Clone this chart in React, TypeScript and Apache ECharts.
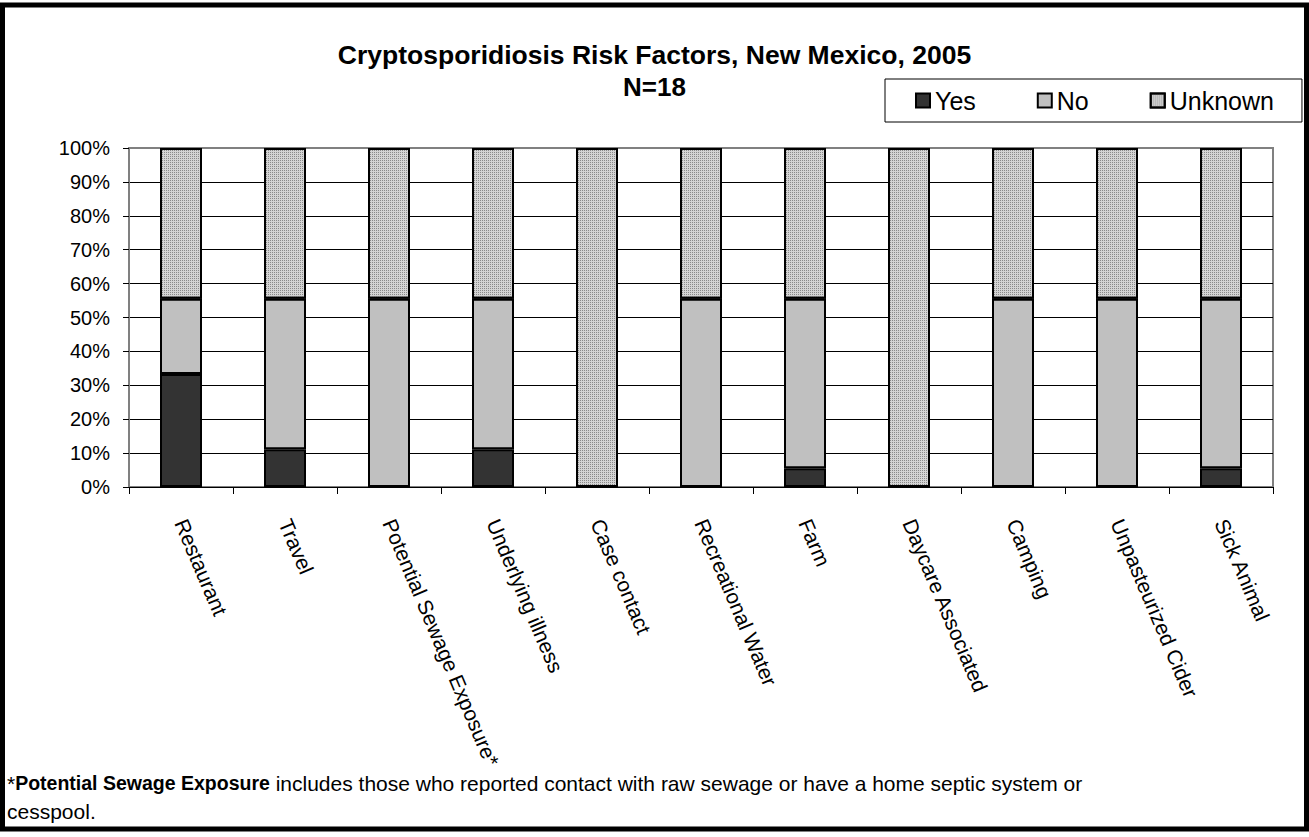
import React, { useEffect, useRef } from "react";
import * as echarts from "echarts";

const categories = [
  "Restaurant",
  "Travel",
  "Potential Sewage Exposure*",
  "Underlying illness",
  "Case contact",
  "Recreational Water",
  "Farm",
  "Daycare Associated",
  "Camping",
  "Unpasteurized Cider",
  "Sick Animal",
];
const totalCases = 18;
const yesCounts = [6, 2, 0, 2, 0, 0, 1, 0, 0, 0, 1];
const noCounts = [4, 8, 10, 8, 0, 10, 9, 0, 10, 10, 9];
const unknownCounts = [8, 8, 8, 8, 18, 8, 8, 18, 8, 8, 8];
const seriesNames = ["Yes", "No", "Unknown"];
const titleText = "Cryptosporidiosis Risk Factors, New Mexico, 2005";
const subtitleText = "N=18";

const FONT = "'Liberation Sans', Arial, sans-serif";

const pct = (arr: number[]) => arr.map((v) => (v / totalCases) * 100);

export default function App() {
  const ref = useRef<HTMLDivElement>(null);
  useEffect(() => {
    if (!ref.current) return;
    const chart = echarts.init(ref.current, null, { renderer: "svg" });
    const barBase = {
      type: "bar",
      stack: "total",
      barWidth: 42,
    };
    const splitColors = Array.from({ length: 11 }, (_, i) => (i === 10 ? "#808080" : "#000000"));
    chart.setOption({
      animation: false,
      backgroundColor: "#ffffff",
      textStyle: { fontFamily: FONT },
      title: {
        text: titleText,
        subtext: subtitleText,
        left: "center",
        top: 35,
        itemGap: 2,
        textStyle: { fontSize: 26.5, fontWeight: "bold", color: "#000", fontFamily: FONT, lineHeight: 30 },
        subtextStyle: { fontSize: 26, fontWeight: "bold", color: "#000", fontFamily: FONT, lineHeight: 30 },
      },
      legend: {
        data: seriesNames,
        left: 885,
        top: 79,
        padding: [9, 28, 9, 30],
        itemGap: 61,
        itemWidth: 14,
        itemHeight: 14,
        icon: "rect",
        borderColor: "#000",
        borderWidth: 1,
        backgroundColor: "#fff",
        textStyle: { fontSize: 25, color: "#000", fontFamily: FONT },
      },
      grid: {
        left: 129,
        right: 36,
        top: 148,
        bottom: 350,
        show: true,
        borderColor: "#808080",
        borderWidth: 2,
        containLabel: false,
      },
      xAxis: {
        type: "category",
        data: categories,
        axisLine: { show: true, lineStyle: { color: "#000", width: 1 } },
        axisTick: { show: true, length: 7, lineStyle: { color: "#000" } },
        axisLabel: {
          interval: 0,
          rotate: -67,
          margin: 33,
          fontSize: 21,
          color: "#000",
          fontFamily: FONT,
        },
      },
      yAxis: {
        type: "value",
        min: 0,
        max: 100,
        interval: 10,
        axisLine: { show: true, lineStyle: { color: "#808080", width: 2 } },
        axisTick: { show: true, length: 6, lineStyle: { color: "#000" } },
        axisLabel: {
          formatter: "{value}%",
          fontSize: 20,
          color: "#000",
          margin: 19,
          fontFamily: FONT,
        },
        splitLine: { show: true, lineStyle: { color: splitColors, width: 1 } },
      },
      series: [
        {
          ...barBase,
          name: "Yes",
          data: pct(yesCounts),
          itemStyle: { color: "#333333", borderColor: "#000", borderWidth: 2 },
        },
        {
          ...barBase,
          name: "No",
          data: pct(noCounts),
          itemStyle: { color: "#c0c0c0", borderColor: "#000", borderWidth: 2 },
        },
        {
          ...barBase,
          name: "Unknown",
          data: pct(unknownCounts),
          itemStyle: {
            color: "#d4d4d4",
            borderColor: "#000",
            borderWidth: 2,
            decal: {
              symbol: "rect",
              symbolSize: 1,
              dashArrayX: [1, 1],
              dashArrayY: [1, 1],
              color: "#8a8a8a",
              rotation: 0,
            },
          },
        },
      ],
      graphic: [
        {
          type: "rect",
          shape: { x: 2.5, y: 5, width: 1304, height: 824 },
          style: { fill: "none", stroke: "#000", lineWidth: 5 },
          silent: true,
        },
        {
          type: "text",
          left: 7,
          top: 769,
          style: {
            text:
              "*{b|Potential Sewage Exposure} includes those who reported contact with raw sewage or have a home septic system or\ncesspool.",
            fontSize: 21,
            fontFamily: FONT,
            fill: "#000",
            lineHeight: 28,
            rich: {
              b: { fontWeight: "bold", fontSize: 19.5, fontFamily: FONT, fill: "#000", lineHeight: 28 },
            },
          },
        },
      ],
    });
    return () => chart.dispose();
  }, []);
  return (
    <div
      ref={ref}
      style={{ position: "fixed", left: 0, top: 0, width: 1309, height: 837 }}
    />
  );
}
